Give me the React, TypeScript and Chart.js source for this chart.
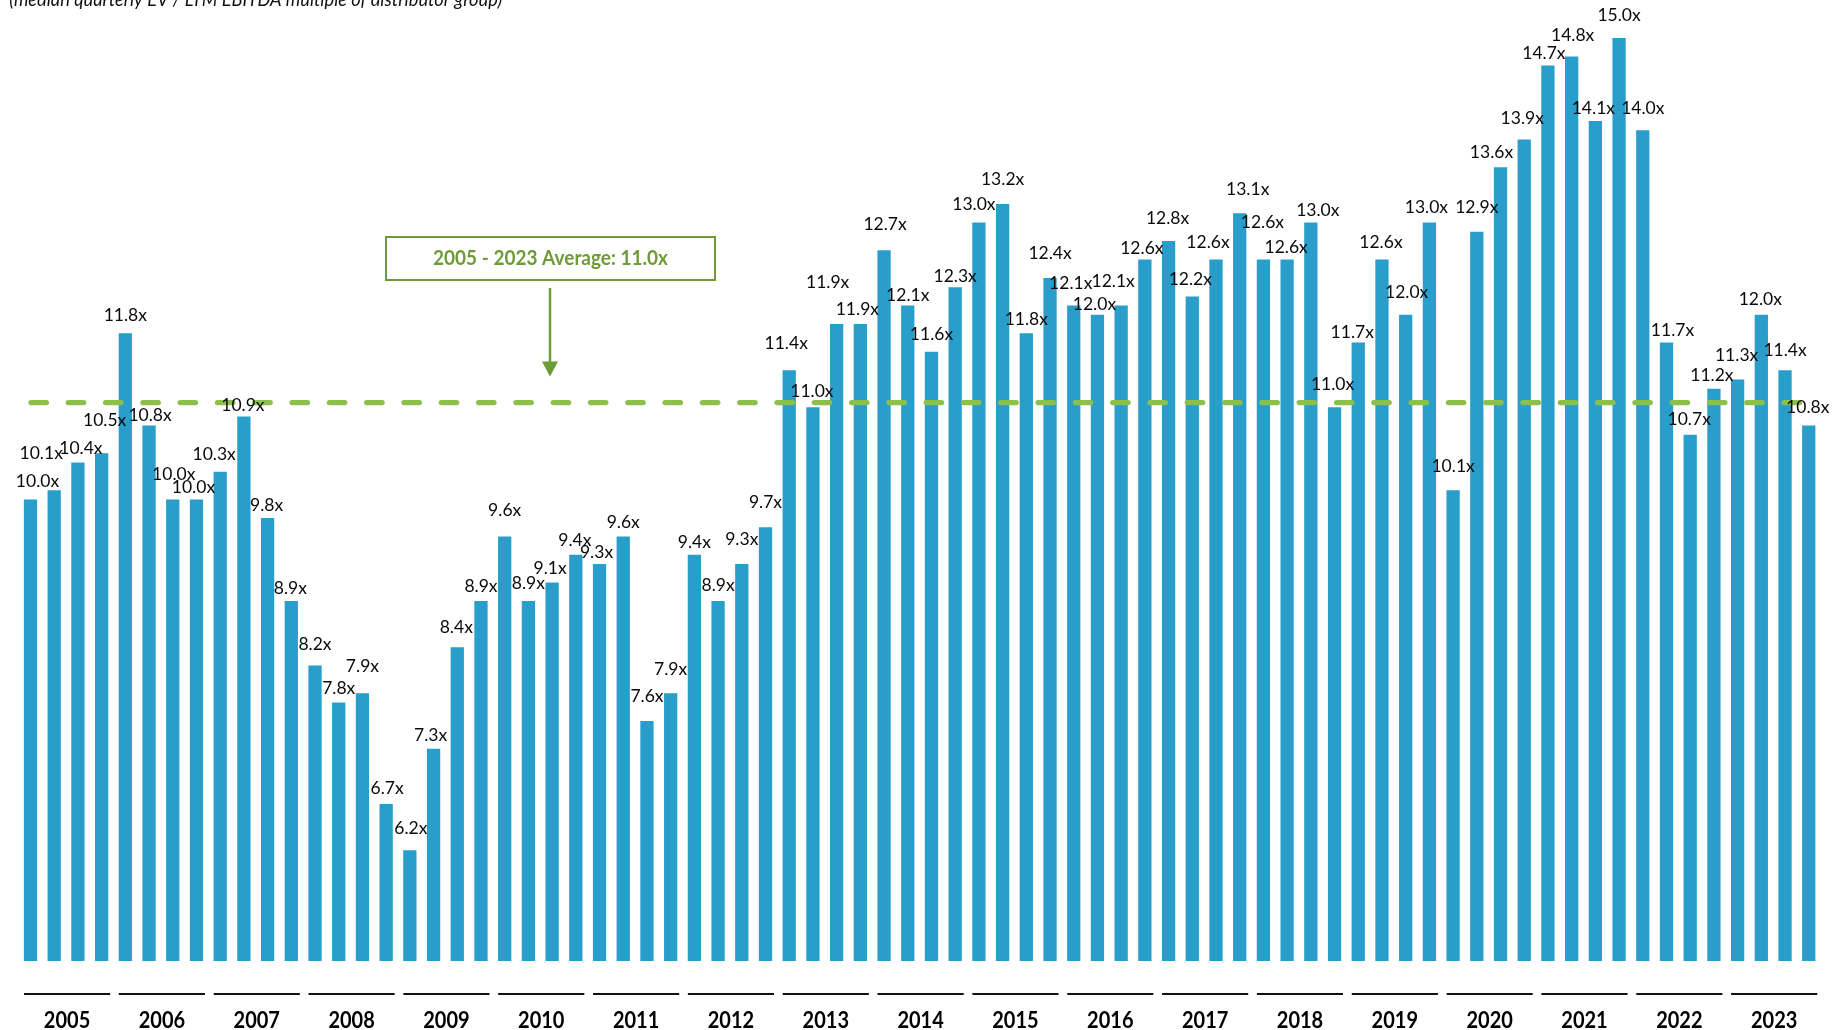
import React, { useEffect, useRef } from "react";
import { Chart, registerables } from "chart.js";

Chart.register(...registerables);

const years = ["2005","2006","2007","2008","2009","2010","2011","2012","2013","2014","2015","2016","2017","2018","2019","2020","2021","2022","2023"];
const quarters = ["Q1","Q2","Q3","Q4"];
const categories = years.flatMap((y) => quarters.map((q) => `${q} ${y}`));

const multiples = [
  10.0, 10.1, 10.4, 10.5,
  11.8, 10.8, 10.0, 10.0,
  10.3, 10.9, 9.8, 8.9,
  8.2, 7.8, 7.9, 6.7,
  6.2, 7.3, 8.4, 8.9,
  9.6, 8.9, 9.1, 9.4,
  9.3, 9.6, 7.6, 7.9,
  9.4, 8.9, 9.3, 9.7,
  11.4, 11.0, 11.9, 11.9,
  12.7, 12.1, 11.6, 12.3,
  13.0, 13.2, 11.8, 12.4,
  12.1, 12.0, 12.1, 12.6,
  12.8, 12.2, 12.6, 13.1,
  12.6, 12.6, 13.0, 11.0,
  11.7, 12.6, 12.0, 13.0,
  10.1, 12.9, 13.6, 13.9,
  14.7, 14.8, 14.1, 15.0,
  14.0, 11.7, 10.7, 11.2,
  11.3, 12.0, 11.4, 10.8,
];

const averageLevel = 11.05;
const averageText = "2005 - 2023 Average: 11.0x";
const subtitle = "(median quarterly EV / LTM EBITDA multiple of distributor group)";

// label nudges (px) to mimic the hand-placed data labels
const labelDx = [
  7,-13,3,3, 0,1,1,-3, -6,-1,-1,-1, 0,0,0,1, 1,-3,-1,0,
  0,0,-2,-1, -3,0,0,0, 0,0,0,0, -3,-1,-9,-3, 1,0,0,0,
  -5,0,0,0, -3,-3,-8,-3, -1,-2,-8,8, -1,-1,7,-2, -6,-1,1,-3,
  0,0,-9,-2, -4,1,-2,0, 0,6,-1,-2, -1,-1,0,-1,
];
const labelLift = [
  19,38,15,34, 19,11,26,13, 18,12,13,13, 22,15,28,16, 23,14,20,15,
  27,18,15,15, 12,15,25,25, 13,16,25,25, 28,16,42,15, 27,11,18,11,
  19,25,15,25, 23,11,25,12, 23,18,18,25, 38,13,13,23, 11,18,23,16,
  25,25,15,22, 13,22,13,23, 23,13,16,14, 25,16,21,19,
];

const BAR = "#299ECA";
const DASH = "#8DC04B";
const DARKGREEN = "#6E9A37";

const decor = {
  id: "decor",
  afterDatasetsDraw(chart: any) {
    const { ctx, scales } = chart;
    const meta = chart.getDatasetMeta(0);
    const yAvg = scales.y.getPixelForValue(averageLevel);
    ctx.save();
    // average dashed line
    ctx.strokeStyle = DASH;
    ctx.lineWidth = 5.3;
    ctx.lineCap = "round";
    ctx.setLineDash([15.4, 21.9]);
    ctx.beginPath();
    ctx.moveTo(31, yAvg);
    ctx.lineTo(1800, yAvg);
    ctx.stroke();
    ctx.setLineDash([]);
    ctx.lineCap = "butt";

    // data labels
    ctx.fillStyle = "#0a0a0a";
    ctx.font = "17.5px Lato";
    ctx.textAlign = "center";
    ctx.textBaseline = "alphabetic";
    meta.data.forEach((bar: any, i: number) => {
      const cy = bar.y - labelLift[i];
      ctx.fillText(multiples[i].toFixed(1) + "x", bar.x + labelDx[i], cy + 6.3);
    });

    // year separators and labels
    for (let g = 0; g < years.length; g++) {
      const first = meta.data[g * 4];
      const last = meta.data[g * 4 + 3];
      ctx.strokeStyle = "#111111";
      ctx.lineWidth = 2;
      ctx.beginPath();
      ctx.moveTo(first.x - 6.5, 994);
      ctx.lineTo(last.x + 8.5, 994);
      ctx.stroke();
      const cx = (first.x + last.x) / 2 + 1;
      ctx.save();
      ctx.translate(cx, 1020);
      ctx.scale(1, 1.1);
      ctx.font = "bold 20px Lato";
      ctx.fillStyle = "#000000";
      ctx.fillText(years[g], 0, 7.1);
      ctx.restore();
    }

    // annotation box + arrow
    ctx.strokeStyle = DARKGREEN;
    ctx.lineWidth = 2;
    ctx.fillStyle = "#ffffff";
    ctx.fillRect(386, 237, 329, 43);
    ctx.strokeRect(386, 237, 329, 43);
    ctx.save();
    ctx.translate(550.5, 258);
    ctx.scale(1, 1.08);
    ctx.font = "bold 19px Lato";
    ctx.fillStyle = DARKGREEN;
    ctx.textAlign = "center";
    ctx.fillText(averageText, 0, 6.8);
    ctx.restore();

    const tipY = yAvg - 26;
    ctx.strokeStyle = DARKGREEN;
    ctx.lineWidth = 2.5;
    ctx.beginPath();
    ctx.moveTo(550, 288);
    ctx.lineTo(550, tipY - 12);
    ctx.stroke();
    ctx.fillStyle = DARKGREEN;
    ctx.beginPath();
    ctx.moveTo(542, tipY - 15);
    ctx.lineTo(558, tipY - 15);
    ctx.lineTo(550, tipY);
    ctx.closePath();
    ctx.fill();

    // subtitle (cropped at top)
    ctx.fillStyle = "#111111";
    ctx.textAlign = "left";
    ctx.font = "italic 100px Lato";
    const w = ctx.measureText(subtitle).width;
    const size = (100 * 493) / w;
    ctx.font = `italic ${size}px Lato`;
    ctx.fillText(subtitle, 9.3, 6);
    ctx.restore();
  },
};

export default function App() {
  const ref = useRef<HTMLCanvasElement>(null);
  useEffect(() => {
    const chart = new Chart(ref.current as HTMLCanvasElement, {
      type: "bar",
      data: {
        labels: categories,
        datasets: [
          {
            data: multiples,
            backgroundColor: BAR,
            barPercentage: 0.56,
            categoryPercentage: 1,
          },
        ],
      },
      options: {
        responsive: false,
        animation: false,
        layout: { padding: { left: 18.64, right: 20.4, top: 1, bottom: 69 } },
        plugins: { legend: { display: false }, tooltip: { enabled: false } },
        scales: {
          x: { display: false, offset: true, grid: { display: false } },
          y: { display: false, min: 5, max: 15.4, grid: { display: false } },
        },
      },
      plugins: [decor as any],
    });
    return () => chart.destroy();
  }, []);
  return (
    <div style={{ position: "fixed", left: 0, top: 0, width: 1841, height: 1030, background: "#fff" }}>
      <canvas ref={ref} width={1841} height={1030} style={{ display: "block", width: 1841, height: 1030 }} />
    </div>
  );
}
